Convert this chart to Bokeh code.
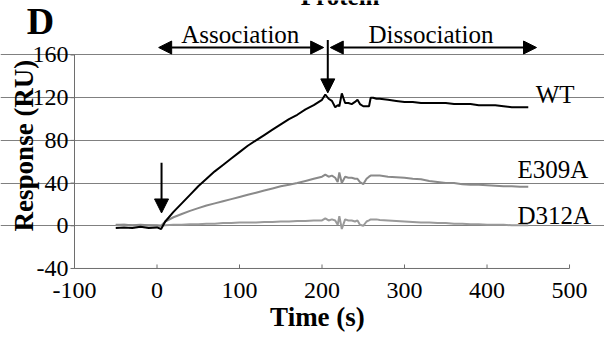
import math
from bokeh.plotting import figure
from bokeh.embed import file_html
from bokeh.resources import INLINE
from bokeh.models import Arrow, NormalHead, FixedTicker, Range1d, Grid
from bokeh.core.properties import value

# ---- data ----
time_s = [-50, -40, -30, -20, -10, 0, 5, 10, 20, 30, 40, 50, 60, 70, 80, 90, 100, 110, 120,
          130, 140, 150, 160, 170, 180, 190, 200, 204, 208, 212, 216, 219, 221, 224, 228,
          232, 236, 240, 243, 246, 250, 254, 257, 259, 262, 266, 270, 280, 290, 300, 310,
          320, 330, 340, 350, 360, 370, 380, 390, 400, 410, 420, 430, 440, 450]

wt = [-2, -1.5, -2, -1, -2, -1.5, -3, 4, 13, 21, 29, 37, 44, 51, 57, 63, 69, 75, 80,
      85, 90, 95, 100, 104, 109, 113, 118, 123, 119, 117, 111, 113, 112, 124, 115,
      115, 114, 116, 118, 114, 112, 112, 112, 120, 120, 119, 119, 118, 117, 116, 116,
      115, 115, 115, 115, 114, 114, 114, 113, 113, 113, 112, 111, 111, 111]

e309a = [1, 1, 0.5, 1, 0.5, 0.5, 0, 4, 8, 11, 14, 16.5, 19, 21, 23, 25, 27, 29, 31,
         33, 35, 37, 38.5, 40, 42, 44, 46, 48, 46, 47, 45, 41, 50, 40, 46,
         45, 45, 44, 44, 41, 39, 44, 46, 47, 47, 47, 47, 46, 45.5, 45, 44,
         43.5, 42, 41, 40, 40, 39, 38.5, 38.5, 38, 37.5, 37, 37, 36.5, 36.5]

d312a = [0.5, 1, 0.5, 0, 0.5, 0, 0, 0.5, 1, 1, 1.5, 1.5, 2, 2, 2.5, 2.5, 3, 3, 3,
         3.5, 3.5, 4, 4, 4.5, 4.5, 5, 5, 7, 5, 6, 5, 1, 9, -3, 6,
         5, 5, 4, 5, 1, 0, 4, 5, 6, 6, 6, 5.5, 5, 4.5, 4, 3.5,
         3, 3, 2.5, 2.5, 2, 2, 1.5, 1.5, 1, 1, 1, 0.5, 0.5, 0.5]

x_ticks = [-100, 0, 100, 200, 300, 400, 500]
x_tick_labels = ["-100", "0", "100", "200", "300", "400", "500"]
y_ticks = [-40, 0, 40, 80, 120, 160]
y_tick_labels = ["-40", "0", "40", "80", "120", "160"]
series_names = ["WT", "E309A", "D312A"]

FONT = value("Liberation Serif")
AXIS_GRAY = "#6e6e6e"

# The frame fills the whole canvas; the data ranges are chosen so that the
# plotting area (-100..500, -40..160) sits where the reference has it.
p = figure(width=604, height=338, output_backend="svg", toolbar_location=None,
           x_axis_type=None, y_axis_type=None,
           x_range=Range1d(-189.7, 542.4), y_range=Range1d(-105.6, 211.05),
           min_border=0)
p.outline_line_color = None
p.background_fill_color = "white"
p.border_fill_color = "white"

# horizontal gridlines
p.add_layout(Grid(dimension=1, ticker=FixedTicker(ticks=y_ticks[1:]),
                  bounds=(x_ticks[0], x_ticks[-1]),
                  grid_line_color="#808080", grid_line_width=1))

# axis lines
p.line([x_ticks[0], x_ticks[0]], [y_ticks[0], y_ticks[-1]], line_color=AXIS_GRAY, line_width=1)
p.line([x_ticks[0], x_ticks[-1]], [y_ticks[0], y_ticks[0]], line_color=AXIS_GRAY, line_width=1)

# ticks: y outward (left), x inward (up)
p.ray(x=[x_ticks[0]] * len(y_ticks), y=y_ticks, length=4, length_units="screen",
      angle=math.pi, line_color=AXIS_GRAY, line_width=1)
p.ray(x=x_ticks, y=[y_ticks[0]] * len(x_ticks), length=4, length_units="screen",
      angle=math.pi / 2, line_color=AXIS_GRAY, line_width=1)

# tick labels
p.text(x=[x_ticks[0]] * len(y_ticks), y=y_ticks, text=y_tick_labels, text_font=FONT,
       text_font_size="24px", text_align="right", text_baseline="middle",
       x_offset=-6, text_color="black")
p.text(x=x_ticks, y=[y_ticks[0]] * len(x_ticks), text=x_tick_labels, text_font=FONT,
       text_font_size="24px", text_align="center", text_baseline="middle",
       y_offset=22, text_color="black")


def txt(x, y, s, size, bold=False, align="left", angle=0.0):
    p.text(x=[x], y=[y], text=[s], text_font=FONT, text_font_size=size,
           text_font_style="bold" if bold else "normal", text_align=align,
           text_baseline="middle", angle=angle, text_color="black")


# axis titles
txt(194.5, -85.9, "Time (s)", "27px", bold=True, align="center")
txt(-161.8, 75.2, "Response (RU)", "27px", bold=True, align="center", angle=math.pi / 2)

# curves
p.line(time_s, d312a, line_color="#9a9a9a", line_width=2)
p.line(time_s, e309a, line_color="#8a8a8a", line_width=2)
p.line(time_s, wt, line_color="black", line_width=2)

# curve labels
for name, (lx, ly) in zip(series_names, [(459, 123.0), (437, 52.3), (437, 9.6)]):
    txt(lx, ly, name, "25px")

# panel letter and cut-off heading
txt(-158, 191.8, "D", "38px", bold=True)
txt(222, 214.8, "Protein", "25px", bold=True, align="center")

# phase annotations
txt(101, 179.2, "Association", "25px", align="center")
txt(332, 179.2, "Dissociation", "25px", align="center")


def head(s):
    return NormalHead(size=s, fill_color="black", line_color="black")


p.add_layout(Arrow(start=head(13), end=head(13), x_start=2, y_start=167, x_end=202, y_end=167,
                   line_width=2, line_color="black"))
p.add_layout(Arrow(start=head(13), end=head(13), x_start=210, y_start=167, x_end=460, y_end=167,
                   line_width=2, line_color="black"))
p.add_layout(Arrow(end=head(14), x_start=207, y_start=174, x_end=207, y_end=124.5,
                   line_width=2, line_color="black"))
p.add_layout(Arrow(end=head(14), x_start=5.5, y_start=59, x_end=5.5, y_end=12,
                   line_width=2, line_color="black"))

open("out.html", "w").write(file_html(p, INLINE))
